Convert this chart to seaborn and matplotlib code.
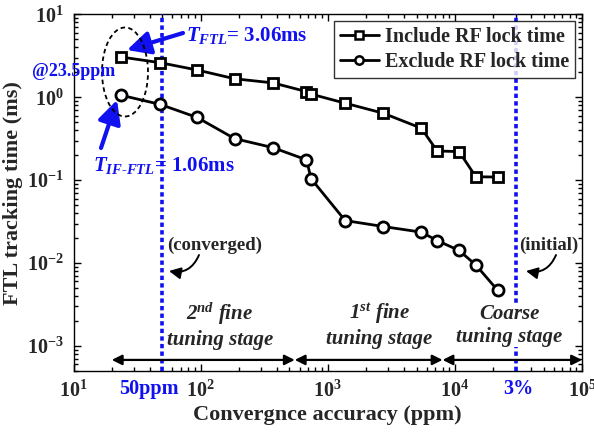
import numpy as np
import pandas as pd
import matplotlib
matplotlib.use("Agg")
import matplotlib.pyplot as plt
import seaborn as sns
from matplotlib.patches import Ellipse, FancyArrowPatch
from matplotlib.ticker import LogLocator, NullFormatter
from matplotlib.lines import Line2D

# ---------------- data ----------------
accuracy_ppm = [23.5, 48, 94, 185, 370, 680, 740, 1370, 2740, 5450, 7250, 10800, 14600, 21700]
include_rf = [3.06, 2.61, 2.13, 1.67, 1.49, 1.17, 1.09, 0.848, 0.641, 0.423, 0.225, 0.221, 0.110, 0.109]
exclude_rf = [1.06, 0.82, 0.57, 0.317, 0.247, 0.176, 0.104, 0.0326, 0.0276, 0.0236, 0.0187, 0.0142, 0.0095, 0.0047]
series_labels = ["Include RF lock time", "Exclude RF lock time"]
marker_map = {"Include RF lock time": "s", "Exclude RF lock time": "o"}
stage_bounds = [20, 550, 8000, 100000]
stage_labels = ["$2^{nd}$ fine\ntuning stage", "$1^{st}$ fine\ntuning stage", "Coarse\ntuning stage"]
stage_centers = [142, 2550, 26850]
ref_lines = [50, 30000]
ref_labels = ["50ppm", "3%"]

df = pd.DataFrame({
    "acc": accuracy_ppm * 2,
    "t": include_rf + exclude_rf,
    "series": [series_labels[0]] * len(accuracy_ppm) + [series_labels[1]] * len(accuracy_ppm),
})

# ---------------- style ----------------
sns.set_style("ticks")
plt.rcParams["font.family"] = ["Liberation Serif", "DejaVu Serif"]
plt.rcParams["font.weight"] = "bold"
plt.rcParams["mathtext.fontset"] = "custom"
plt.rcParams["mathtext.rm"] = "Liberation Serif:bold"
plt.rcParams["mathtext.bf"] = "Liberation Serif:bold"
plt.rcParams["mathtext.it"] = "Liberation Serif:italic:bold"
plt.rcParams["mathtext.default"] = "regular"

BLUE = "#1010f0"
W, H = 594, 434
fig = plt.figure(figsize=(W / 100, H / 100), dpi=100)
fig.patch.set_facecolor("white")
L, R, T, B = 73.5, 582, 14.3, 371
ax = fig.add_axes([L / W, 1 - B / H, (R - L) / W, (B - T) / H])
ax.set_facecolor("white")


def P(x, y):
    return (x / W, 1 - y / H)


for s in series_labels:
    sub = df[df["series"] == s]
    sns.lineplot(data=sub, x="acc", y="t", ax=ax, color="black", lw=2,
                 marker=marker_map[s], markersize=7 if marker_map[s] == "s" else 8,
                 markeredgewidth=2, markerfacecolor="white", markeredgecolor="black",
                 label=s, sort=False, zorder=5)

ax.set_xscale("log")
ax.set_yscale("log")
ax.set_xlim(10, 1e5)
ax.set_ylim(5e-4, 10)

for xv in ref_lines:
    ax.axvline(xv, color=BLUE, lw=2.6, ls=(0, (1.2, 0.9)), zorder=3)

ax.xaxis.set_major_locator(LogLocator(base=10, numticks=10))
ax.xaxis.set_minor_locator(LogLocator(base=10, subs=np.arange(2, 10), numticks=20))
ax.yaxis.set_major_locator(LogLocator(base=10, numticks=10))
ax.yaxis.set_minor_locator(LogLocator(base=10, subs=np.arange(2, 10), numticks=20))
ax.xaxis.set_minor_formatter(NullFormatter())
ax.yaxis.set_minor_formatter(NullFormatter())
ax.tick_params(which="both", direction="in", top=True, right=True, width=1, color="black")
ax.tick_params(which="major", length=5, labelsize=14.5, pad=7)
ax.tick_params(which="minor", length=3)
for lab in ax.get_xticklabels() + ax.get_yticklabels():
    lab.set_fontweight("bold")
for sp in ax.spines.values():
    sp.set_linewidth(1)
    sp.set_color("black")

ax.set_xlabel("Convergnce accuracy (ppm)", fontsize=16, fontweight="bold", labelpad=2)
ax.set_ylabel("FTL tracking time (ms)", fontsize=16, fontweight="bold", labelpad=3)

# blue tick-row labels
ref_offsets = [-9.5, 2]
for xv, lab, off in zip(ref_lines, ref_labels, ref_offsets):
    ax.annotate(lab, xy=(xv, 0), xycoords=("data", "axes fraction"), xytext=(off, -5.5),
                textcoords="offset points", ha="center", va="top", fontsize=14.5,
                fontweight="bold", color=BLUE)

# legend
handles = [Line2D([], [], color="black", lw=2, marker=marker_map[s], markersize=6,
                  markeredgewidth=1.8, markerfacecolor="white") for s in series_labels]
leg = ax.legend(handles, series_labels, loc="upper right", bbox_to_anchor=(0.986, 0.981),
                borderaxespad=0, fontsize=14.5, frameon=True, fancybox=False,
                edgecolor="black", handlelength=1.9, handletextpad=0.3,
                labelspacing=0.25, borderpad=0.3)
leg.get_frame().set_linewidth(1)
leg.set_zorder(10)
for t in leg.get_texts():
    t.set_fontweight("bold")

# stage arrows and labels
y_arrow = 6.8e-4
for a, b in zip(stage_bounds[:-1], stage_bounds[1:]):
    ax.annotate("", xy=(b, y_arrow), xytext=(a, y_arrow),
                arrowprops=dict(arrowstyle="<|-|>", color="black", lw=1.6,
                                mutation_scale=15, shrinkA=0, shrinkB=0),
                annotation_clip=False, zorder=6)
for xc, lab in zip(stage_centers, stage_labels):
    ax.text(xc, 1.78e-3, lab, ha="center", va="center", fontsize=15,
            fontweight="bold", fontstyle="italic", linespacing=1.2, zorder=6,
            bbox=dict(facecolor="white", edgecolor="none", pad=0.5))

# annotations (blue)
fig.text(*P(186, 35), r"$\mathit{T}_{\mathit{FTL}}$= 3.06ms", ha="left", va="center",
         fontsize=15, fontweight="bold", color=BLUE)
fig.text(*P(93, 166), r"$\mathit{T}_{\mathit{IF}\text{-}\mathit{FTL}}$= 1.06ms", ha="left",
         va="center", fontsize=15, fontweight="bold", color=BLUE)
fig.text(*P(74, 72), "@23.5ppm", ha="center", va="center", fontsize=13,
         fontweight="bold", color=BLUE)

arrow_blue = dict(arrowstyle="-|>,head_length=0.7,head_width=0.35", color=BLUE, lw=3,
                  mutation_scale=20, shrinkA=0, shrinkB=0)
fig.add_artist(FancyArrowPatch(P(183, 33), P(127, 50),
               transform=fig.transFigure, **arrow_blue))
fig.add_artist(FancyArrowPatch(P(101, 148), P(117, 100),
               transform=fig.transFigure, **arrow_blue))

fig.add_artist(Ellipse((1.25, (H - 72) / 100), 0.46, 0.89, transform=fig.dpi_scale_trans,
                       fill=False, edgecolor="black", lw=1.3, ls=(0, (2.5, 1.8))))

# converged / initial
fig.text(*P(167, 245), "(converged)", ha="left", va="center", fontsize=13.5, fontweight="bold")
fig.text(*P(519, 245), "(initial)", ha="left", va="center", fontsize=13.5, fontweight="bold")
arrow_k = dict(arrowstyle="-|>,head_length=0.5,head_width=0.25", color="black", lw=1.4,
               mutation_scale=14, shrinkA=0, shrinkB=0, connectionstyle="arc3,rad=-0.4")
fig.add_artist(FancyArrowPatch(P(199, 255), P(169, 271),
               transform=fig.transFigure, **arrow_k))
fig.add_artist(FancyArrowPatch(P(556, 255), P(526, 271),
               transform=fig.transFigure, **arrow_k))

fig.savefig("out.png", dpi=100, facecolor="white")
